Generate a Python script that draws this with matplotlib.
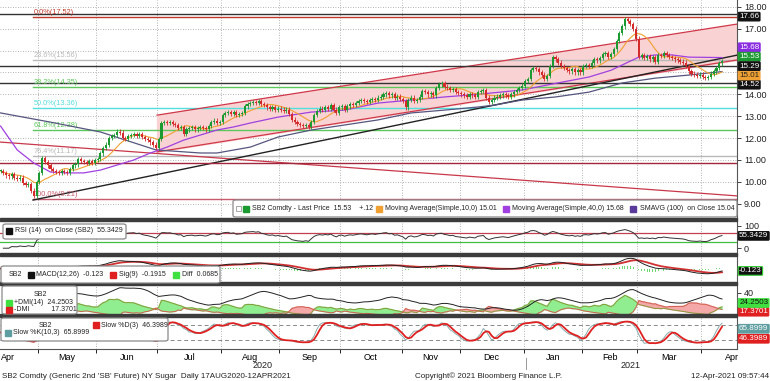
import numpy as np
import pandas as pd
import matplotlib
matplotlib.use('Agg')
import matplotlib.pyplot as plt
from matplotlib.patches import Rectangle, FancyBboxPatch

plt.rcParams['font.family'] = ['Liberation Sans', 'DejaVu Sans']
LEG_FS = 5.0
TAG_FS = 5.8

# ---- data ----
# SB2 daily closes, 13 Apr 2020 .. 12 Apr 2021 (one list per month)
apr20 = [10.5, 10.4, 10.3, 10.25, 10.35, 10.2, 10.15, 10.2, 9.95, 9.85, 9.9, 9.6, 9.35, 10.0]
may20 = [10.4, 11.1, 10.9, 10.75, 10.6, 10.5, 10.45, 10.4, 10.5, 10.45, 10.4, 10.6, 10.75, 10.8,
         11.05, 10.95, 10.9, 10.85, 10.95, 10.85, 11.0]
jun20 = [11.05, 11.3, 11.55, 11.7, 12.0, 12.1, 12.15, 12.3, 12.25, 12.0, 11.95, 12.1, 12.15, 12.2,
         12.1, 12.2, 12.05, 11.95, 11.9, 11.8, 11.7, 11.55]
jul20 = [11.95, 12.7, 12.75, 12.7, 12.75, 12.65, 12.6, 12.45, 12.5, 12.2, 12.4, 12.45, 12.5, 12.4,
         12.45, 12.5, 12.45, 12.4, 12.55, 12.75, 12.8, 12.7, 12.75]
aug20 = [13.05, 13.15, 13.2, 13.1, 13.2, 13.05, 13.1, 13.15, 13.45, 13.55, 13.6, 13.65, 13.6, 13.7,
         13.55, 13.5, 13.4, 13.35, 13.4, 13.3, 13.35]
sep20 = [13.3, 13.25, 13.3, 13.1, 12.85, 12.75, 12.65, 12.6, 12.55, 12.6, 12.5, 12.75, 13.05, 13.25,
         13.35, 13.3, 13.4, 13.35, 13.5, 13.3, 13.15, 13.4]
oct20 = [13.45, 13.3, 13.45, 13.55, 13.5, 13.6, 13.7, 13.75, 13.7, 13.65, 13.75, 13.8, 13.75, 13.85,
         13.9, 14.0, 14.05, 13.95, 14.0, 13.85, 13.9, 13.8]
nov20 = [13.7, 13.4, 13.75, 13.85, 13.7, 13.75, 13.9, 14.15, 14.1, 14.0, 14.05, 13.95, 14.3, 14.45,
         14.5, 14.35, 14.3, 14.2, 14.25, 14.1, 14.05]
dec20 = [14.0, 13.95, 13.9, 14.0, 13.95, 13.9, 14.1, 14.15, 14.2, 13.85, 13.65, 13.75, 13.85, 13.9,
         13.95, 14.0, 13.95, 13.9, 14.0, 14.1, 14.2, 14.3, 14.4]
jan21 = [14.6, 14.7, 15.1, 15.2, 15.15, 15.0, 14.9, 14.7, 14.85, 15.3, 15.7, 15.6, 15.45, 15.3,
         15.2, 15.1, 15.05, 15.15, 15.0, 15.1, 15.0]
feb21 = [15.3, 15.35, 15.3, 15.45, 15.6, 15.55, 15.65, 15.85, 15.9, 15.7, 15.85, 16.05, 16.45, 16.8,
         17.1, 17.45, 17.35, 17.2, 17.0, 16.55]
mar21 = [15.7, 15.8, 15.65, 15.75, 15.6, 15.7, 15.5, 15.8, 15.75, 15.9, 15.8, 15.7, 15.65, 15.6,
         15.55, 15.5, 15.45, 15.3, 15.05, 14.95, 14.9, 14.85, 14.9]
apr21 = [14.8, 14.75, 14.8, 14.95, 15.05, 15.2, 15.41, 15.53]

# 40 and 100 day averages as drawn (trading-day index, price)
sma40_idx = [0, 6, 12, 18, 24, 30, 36, 42, 48, 54, 60, 66, 72, 78, 84, 90, 100, 112, 124, 136,
             148, 160, 172, 188, 200, 212, 220, 224, 230, 236, 242, 248, 260]
sma40_val = [12.55, 11.46, 10.86, 10.45, 10.41, 10.41, 10.54, 10.77, 11.0, 11.32, 11.59, 11.91,
             12.14, 12.37, 12.51, 12.69, 12.96, 13.19, 13.28, 13.6, 13.74, 13.88, 14.0, 14.2, 14.5,
             14.79, 15.1, 15.34, 15.7, 15.8, 15.8, 15.7, 15.68]
sma100_idx = [0, 18, 36, 56, 72, 78, 90, 100, 112, 124, 136, 148, 160, 172, 178, 188, 200, 212,
              224, 236, 248, 260]
sma100_val = [13.15, 12.73, 12.28, 11.46, 11.32, 11.32, 11.59, 12.05, 12.37, 12.6, 12.83, 13.15,
              13.28, 13.42, 13.51, 13.74, 13.88, 14.1, 14.52, 14.74, 14.88, 15.04]

# drawn studies: horizontal levels, fibonacci retracement, trend lines (index, price)
levels_black = [17.66, 15.29, 14.52]
level_red = 10.85
fib_names = ['0.0%', '23.6%', '38.2%', '50.0%', '61.8%', '76.4%', '100.0%']
fib_levels = [17.52, 15.56, 14.35, 13.36, 12.38, 11.17, 9.21]
fib_colors = ['#c0392b', '#b8b8b8', '#5cc85c', '#55dede', '#5cc85c', '#b8b8b8', '#c85a6e']
fib_start = 11.7
trend_up = ([11.7, 265.4], [9.17, 15.79])
trend_down = ([-0.2, 265.4], [11.82, 9.36])
chan_x = [56.4, 265.4]
chan_top = [13.05, 17.21]
chan_bot = [11.37, 15.57]

closes = np.array(apr20 + may20 + jun20 + jul20 + aug20 + sep20 + oct20 + nov20 + dec20 +
                  jan21 + feb21 + mar21 + apr21)
dates = pd.bdate_range('2020-04-13', periods=len(closes))
x = np.arange(len(closes))

# ---- derived series ----
WICK = 0.1
s = pd.Series(closes)
opens = s.shift(1).fillna(s.iloc[0]).values
highs = np.maximum(opens, closes) + WICK
lows = np.minimum(opens, closes) - WICK
sma10 = s.rolling(10, min_periods=1).mean()

delta = s.diff()
gain = delta.clip(lower=0).ewm(alpha=1 / 14, adjust=False).mean()
loss = (-delta.clip(upper=0)).ewm(alpha=1 / 14, adjust=False).mean()
rsi = 100 - 100 / (1 + gain / loss)

macd = s.ewm(span=12, adjust=False).mean() - s.ewm(span=26, adjust=False).mean()
sig = macd.ewm(span=9, adjust=False).mean()
hist = macd - sig

h, l = pd.Series(highs), pd.Series(lows)
up, dn = h.diff(), -l.diff()
pdm = pd.Series(np.where((up > dn) & (up > 0), up, 0.0))
mdm = pd.Series(np.where((dn > up) & (dn > 0), dn, 0.0))
tr = pd.concat([h - l, (h - s.shift(1)).abs(), (l - s.shift(1)).abs()], axis=1).max(axis=1)
atr = tr.ewm(alpha=1 / 14, adjust=False).mean()
pdi = 100 * pdm.ewm(alpha=1 / 14, adjust=False).mean() / atr
mdi = 100 * mdm.ewm(alpha=1 / 14, adjust=False).mean() / atr
adx = (100 * (pdi - mdi).abs() / (pdi + mdi)).ewm(alpha=1 / 14, adjust=False).mean()

ll = l.rolling(10, min_periods=1).min()
hh = h.rolling(10, min_periods=1).max()
slowk = (100 * (s - ll) / (hh - ll)).rolling(3, min_periods=1).mean()
slowd = slowk.rolling(3, min_periods=1).mean()

# ---- layout helpers (pixel coordinates of the 770x381 picture) ----
W, H = 770, 381
def fx(px): return px / W
def fy(py): return 1 - py / H

fig = plt.figure(figsize=(W / 100, H / 100), dpi=100)
fig.patch.set_facecolor('white')
XR = 737
ax = fig.add_axes([0, fy(218), fx(XR), 218 / H])
ax_rsi = fig.add_axes([0, fy(254), fx(XR), 33 / H])
ax_macd = fig.add_axes([0, fy(283), fx(XR), 27 / H])
ax_dmi = fig.add_axes([0, fy(315), fx(XR), 30 / H])
ax_sto = fig.add_axes([0, fy(349), fx(XR), 32 / H])
panels = [ax, ax_rsi, ax_macd, ax_dmi, ax_sto]

# month boundaries and label centres from the business-day calendar
mk = dates.to_period('M')
bounds = [i - 0.5 for i in range(1, len(dates)) if mk[i] != mk[i - 1]]
start = np.datetime64('2020-04-13')
months = pd.period_range('2020-04', '2021-04', freq='M')
mcent = []
for m in months:
    a = np.busday_count(start, np.datetime64(m.start_time.date()))
    b = np.busday_count(start, np.datetime64((m + 1).start_time.date()))
    mcent.append((a + b) / 2 - 0.5)

for a in panels:
    a.set_xlim(-0.2, 265.4)
    for sp in ['top', 'left', 'bottom']:
        a.spines[sp].set_visible(False)
    a.spines['right'].set_color('#555555')
    a.spines['right'].set_linewidth(0.8)
    a.yaxis.tick_right()
    a.tick_params(axis='y', labelsize=6.5, length=3, width=0.6, pad=2, colors='#222222')
    a.tick_params(axis='x', bottom=False, labelbottom=False)
    for b in bounds:
        a.axvline(b, color='#9a9a9a', ls=(0, (1, 2)), lw=0.6, zorder=0)

# ---- main price panel ----
ticks = np.arange(9, 18.5, 1)
ax.set_ylim(8.35, 18.31)
ax.set_yticks(ticks)
# 15.00 and 16.00 sit under the value tags, as on the terminal
ax.set_yticklabels(['' if v in (15, 16) else '%.2f' % v for v in ticks])
for v in ticks:
    ax.axhline(v, color='#9a9a9a', ls=(0, (1, 2)), lw=0.6, zorder=0)

ax.fill_between(chan_x, chan_bot, chan_top, color='#f9d3d3', zorder=1)
ax.plot(chan_x, chan_top, color='#d0384a', lw=0.9, zorder=3)
ax.plot(chan_x, chan_bot, color='#d0384a', lw=0.9, zorder=3)
ax.plot(*trend_down, color='#c8384a', lw=0.9, zorder=3)
ax.plot(*trend_up, color='#222222', lw=1.0, zorder=3)
for v in levels_black:
    ax.axhline(v, color='#333333', lw=1.0, zorder=3)
ax.axhline(level_red, color='#a0283c', lw=1.0, zorder=3)
for name, v, c in zip(fib_names, fib_levels, fib_colors):
    ax.plot([fib_start, 265.4], [v, v], color=c, lw=1.0, zorder=2)
    ax.text(fib_start + 0.3, v + 0.05, '%s(%.2f)' % (name, v), color=c, fontsize=5.3,
            va='bottom', ha='left', zorder=4)

ax.plot(sma100_idx, sma100_val, color='#55557f', lw=0.9, zorder=4)
ax.plot(sma40_idx, sma40_val, color='#a040e0', lw=0.9, zorder=4)
ax.plot(x, sma10, color='#f0a030', lw=0.8, zorder=4)

upc = closes >= opens
col = np.where(upc, '#1c9a32', '#d42a2a')
ax.vlines(x, lows, highs, colors=col, lw=0.6, zorder=5)
body = np.where(np.abs(closes - opens) < 0.03, 0.03, closes - opens)
ax.bar(x, body, bottom=opens, width=0.75, color=col, zorder=6, linewidth=0)

# ---- RSI ----
ax_rsi.set_ylim(-26, 122)
ax_rsi.set_yticks([0, 100])
ax_rsi.axhline(70, color='#c04050', lw=0.9)
ax_rsi.axhline(30, color='#40c040', lw=0.9)
ax_rsi.plot(x, rsi, color='#333333', lw=0.7)

# ---- MACD ----
lo = min(macd.min(), sig.min())
hi = max(macd.max(), sig.max())
ax_macd.set_ylim(lo - (hi - lo) * 0.6, hi + (hi - lo) * 0.15)
ax_macd.set_yticks([])
ax_macd.bar(x, hist, width=0.3, color='#70d870', zorder=2)
ax_macd.plot(x, sig, color='#d03030', lw=1.3, zorder=3)
ax_macd.plot(x, macd, color='#222222', lw=0.7, zorder=4)

# ---- DMI ----
ax_dmi.set_ylim(5.3, 52.6)
ax_dmi.set_yticks([40])
ax_dmi.fill_between(x, pdi, mdi, where=pdi >= mdi, color='#90ee90', interpolate=True, zorder=1)
ax_dmi.fill_between(x, pdi, mdi, where=pdi < mdi, color='#f4a8a8', interpolate=True, zorder=1)
ax_dmi.plot(x, pdi, color='#8a9a3a', lw=0.7, zorder=2)
ax_dmi.plot(x, mdi, color='#d06050', lw=0.7, zorder=2)
ax_dmi.plot(x, adx, color='#222222', lw=0.7, zorder=3)

# ---- Stochastic ----
ax_sto.set_ylim(-16, 112)
ax_sto.set_yticks([])
ax_sto.axhline(80, color='#888888', ls=(0, (4, 3)), lw=0.7)
ax_sto.axhline(20, color='#888888', ls=(0, (4, 3)), lw=0.7)
ax_sto.plot(x, slowk, color='#88aaaa', lw=0.7)
ax_sto.plot(x, slowd, color='#e02020', lw=1.3)
ax_sto.set_xticks(mcent)
ax_sto.set_xticklabels([m.strftime('%b') for m in months], fontsize=6.5)
ax_sto.tick_params(axis='x', labelbottom=True, length=0, pad=3)
ax_sto.set_xticks(bounds, minor=True)
ax_sto.tick_params(axis='x', which='minor', bottom=True, length=3, width=0.6)
ax_sto.spines['bottom'].set_visible(True)
ax_sto.spines['bottom'].set_color('#555555')

# ---- separators between panels ----
for yb in [218, 253, 282, 314]:
    fig.add_artist(Rectangle((0, fy(yb + 3)), fx(XR), 3 / H, transform=fig.transFigure,
                             color='#3c3c3c', zorder=10))

# ---- right-hand value tags (stacked like the terminal does) ----
def tag(a, yval, text, fc, tc='white', ec=None, z=8):
    a.annotate(text, xy=(1, yval), xycoords=('axes fraction', 'data'), xytext=(1.5, 0),
               textcoords='offset points', va='center', ha='left', fontsize=TAG_FS, color=tc,
               bbox=dict(boxstyle='round,pad=0.1', fc=fc, ec=ec or fc, lw=0.8),
               annotation_clip=False, zorder=z)

tag(ax, 17.55, '17.66', '#111111')
tag(ax, 16.15, '15.68', '#8a2be2', z=7)
tag(ax, 15.72, '15.53', '#1c9a32', z=8)
tag(ax, 14.86, '15.01', '#f0a030', tc='#222222', z=9)
tag(ax, 15.29, '15.29', '#111111', z=10)
tag(ax, 14.44, '14.52', '#111111')
tag(ax_rsi, 55.34, '55.3429', '#111111')
tag(ax_macd, macd.iloc[-1], '-0.123', '#111111', ec='#30d030')
tag(ax_dmi, 10.5, '17.3701', '#e02020', z=7)
tag(ax_dmi, 24.25, '24.2503', '#40e040', tc='#111111', z=8)
tag(ax_sto, 25.0, '46.3989', '#e02020', z=7)
tag(ax_sto, 65.0, '65.8999', '#5f9ea0', z=8)

# ---- legend boxes ----
def box(x0, y0, x1, y1):
    fig.add_artist(FancyBboxPatch((fx(x0), fy(y1)), fx(x1 - x0), (y1 - y0) / H,
                                  boxstyle='round,pad=0,rounding_size=0.004',
                                  transform=fig.transFigure, fc='white', ec='#8a8a8a',
                                  lw=0.9, zorder=11))

def sq(px, py, c):
    fig.add_artist(Rectangle((fx(px), fy(py + 3)), fx(6), 6 / H, transform=fig.transFigure,
                             color=c, zorder=12))

def txt(px, py, t):
    fig.text(fx(px), fy(py), t, fontsize=LEG_FS, va='center', ha='left', color='#222222',
             zorder=12)

box(233, 200, 737, 217)
fig.add_artist(Rectangle((fx(236), fy(211)), fx(5), 5 / H, transform=fig.transFigure,
                         fc='white', ec='#999999', lw=0.6, zorder=12))
sq(243, 208.5, '#1c9a32')
txt(252, 208.5, 'SB2 Comdty - Last Price  15.53    +.12')
sq(376, 208.5, '#f0a030')
txt(385, 208.5, 'Moving Average(Simple,10,0) 15.01')
sq(503, 208.5, '#a040e0')
txt(512, 208.5, 'Moving Average(Simple,40,0) 15.68')
sq(630, 208.5, '#5a3a9a')
txt(640, 208.5, 'SMAVG (100)  on Close 15.04')

box(3, 224, 126, 239)
sq(6, 231, '#111111')
txt(15, 231, 'RSI (14)  on Close (SB2)  55.3429')

box(1, 266, 220, 283)
txt(9, 275, 'SB2')
sq(28, 275, '#111111')
txt(36, 275, 'MACD(12,26)  -0.123')
sq(110, 275, '#e02020')
txt(119, 275, 'Sig(9)  -0.1915')
sq(173, 275, '#40e040')
txt(182, 275, 'Diff  0.0685')

box(2, 286, 77, 314)
txt(34, 294, 'SB2')
sq(6, 302.5, '#40e040')
txt(14, 302.5, '+DMI(14)  24.2503')
sq(6, 309.5, '#e02020')
txt(14, 309.5, '-DMI           17.3701')

box(1, 318, 168, 341)
txt(39, 325.5, 'SB2')
sq(93, 325, '#e02020')
txt(101, 325.5, 'Slow %D(3)  46.3989')
sq(5, 333, '#5f9ea0')
txt(13, 333, 'Slow %K(10,3)  65.8999')

# ---- years and footer ----
fig.text(fx(263), fy(365), '2020', fontsize=6.5, ha='center', va='center', color='#222222')
fig.text(fx(631), fy(365), '2021', fontsize=6.5, ha='center', va='center', color='#222222')
fig.add_artist(plt.Line2D([fx(526), fx(526)], [fy(358), fy(369)], color='#888888', lw=0.6))
fig.text(fx(2), fy(376), "SB2 Comdty (Generic 2nd 'SB' Future) NY Sugar  Daily 17AUG2020-12APR2021",
         fontsize=5.8, ha='left', va='center', color='#222222')
fig.text(fx(415), fy(376), 'Copyright\u00a9 2021 Bloomberg Finance L.P.', fontsize=5.8,
         ha='left', va='center', color='#222222')
fig.text(fx(769), fy(376), '12-Apr-2021 09:57:44', fontsize=5.8, ha='right', va='center',
         color='#222222')

fig.savefig('out.png', dpi=100, facecolor='white')
